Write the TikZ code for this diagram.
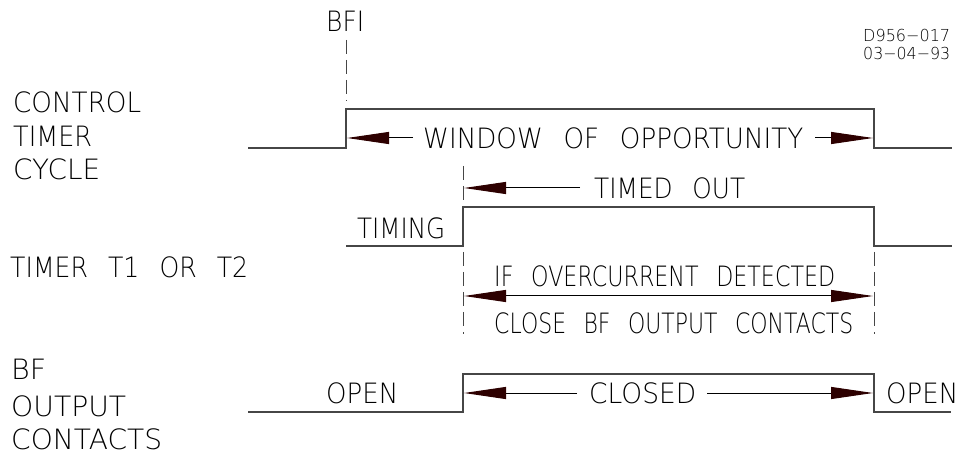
\documentclass[tikz,border=0pt]{standalone}
\usepackage{fontspec}
\usepackage{graphicx}
\usetikzlibrary{arrows.meta}
\IfFontExistsTF{DejaVu Sans ExtraLight}
  {\newfontfamily\lbl{DejaVu Sans ExtraLight}[WordSpace=2.5]}
  {\newfontfamily\lbl{DejaVu Sans}[WordSpace=2.5]}
\newcommand\fitto[2]{\resizebox{#1pt}{\height}{#2}}
\definecolor{arrc}{RGB}{45,0,0}
\definecolor{sigc}{RGB}{70,70,70}
\tikzset{
  txt/.style={inner sep=0pt, anchor=west, font=\lbl\fontsize{28}{30}\selectfont},
  smalltxt/.style={inner sep=0pt, anchor=west, font=\lbl\fontsize{16.5}{18}\selectfont},
  sig/.style={draw=sigc, line width=1.3pt},
  guide/.style={draw=sigc, line width=1pt, dash pattern=on 14pt off 6pt},
  arr/.style={draw=black, line width=1pt, -{Triangle[length=42pt,width=12pt,color=arrc]}},
  darr/.style={draw=black, line width=1pt, {Triangle[length=42pt,width=12pt,color=arrc]}-{Triangle[length=42pt,width=12pt,color=arrc]}}
}
\begin{document}
\begin{tikzpicture}[x=1pt,y=-1pt]
\useasboundingbox (0,0) rectangle (969,454);
% left labels
\node[txt] (l1) at (13,102) {\fitto{128}{CONTROL}};
\node[txt] (l2) at (13,136) {\fitto{79}{TIMER}};
\node[txt] (l3) at (13,169) {\fitto{87}{CYCLE}};
\node[txt] (l4) at (10,267) {\fitto{238}{TIMER T1 OR T2}};
\node[txt] (l5) at (11,369) {\fitto{35}{BF}};
\node[txt] (l6) at (11,406) {\fitto{115}{OUTPUT}};
\node[txt] (l7) at (11,439) {\fitto{151}{CONTACTS}};
% drawing id
\node[smalltxt] (id1) at (863,36) {\fitto{87}{D956−017}};
\node[smalltxt] (id2) at (863,54) {\fitto{87}{03−04−93}};
% control timer cycle
\coordinate (c0) at (248,148);
\coordinate (c1) at (346,148);
\coordinate (c2) at (346,109);
\coordinate (c3) at (874,109);
\coordinate (c4) at (874,148);
\coordinate (c5) at (952,148);
\draw[sig] (c0) -- (c1) -- (c2) -- (c3) -- (c4) -- (c5);
\node[txt] (bfi) at (326,21) {\fitto{38}{BFI}};
\coordinate (bfitop) at (346,40);
\coordinate (bfibot) at (346,101);
\draw[guide] (bfitop) -- (bfibot);
\node[txt] (win) at (423,138) {\fitto{380}{WINDOW OF OPPORTUNITY}};
\coordinate (wl) at (347,138);
\coordinate (wr) at (873,138);
\draw[arr] ([xshift=-10pt]win.west) -- (wl);
\draw[arr] ([xshift=12pt]win.east) -- (wr);
% timer
\coordinate (t0) at (346,246);
\coordinate (t1) at (463,246);
\coordinate (t2) at (463,207);
\coordinate (t3) at (874,207);
\coordinate (t4) at (874,246);
\coordinate (t5) at (952,246);
\draw[sig] (t0) -- (t1) -- (t2) -- (t3) -- (t4) -- (t5);
\node[txt] (timing) at (357,228) {\fitto{88}{TIMING}};
\node[txt] (tout) at (594,188) {\fitto{151}{TIMED OUT}};
\coordinate (tol) at (464,188);
\draw[arr] ([xshift=-14pt]tout.west) -- (tol);
\coordinate (g1a) at (463,166);
\coordinate (g1b) at (463,207);
\draw[guide] (g1a) -- (g1b);
\coordinate (g2a) at (463,252);
\coordinate (g2b) at (463,334);
\draw[guide] (g2a) -- (g2b);
\coordinate (g3a) at (874,252);
\coordinate (g3b) at (874,334);
\draw[guide] (g3a) -- (g3b);
\node[txt] (ifoc) at (494,276) {\fitto{341}{IF OVERCURRENT DETECTED}};
\coordinate (dl) at (464,296);
\coordinate (dr) at (873,296);
\draw[darr] (dl) -- (dr);
\node[txt] (close) at (494,323) {\fitto{359}{CLOSE BF OUTPUT CONTACTS}};
% BF output contacts
\coordinate (b0) at (248,412);
\coordinate (b1) at (463,412);
\coordinate (b2) at (463,374);
\coordinate (b3) at (874,374);
\coordinate (b4) at (874,412);
\coordinate (b5) at (951,412);
\draw[sig] (b0) -- (b1) -- (b2) -- (b3) -- (b4) -- (b5);
\node[txt] (open1) at (326,393) {\fitto{72}{OPEN}};
\node[txt] (closed) at (589,393) {\fitto{107}{CLOSED}};
\node[txt] (open2) at (886,393) {\fitto{72}{OPEN}};
\coordinate (cl) at (464,393);
\coordinate (cr) at (873,393);
\draw[arr] ([xshift=-12pt]closed.west) -- (cl);
\draw[arr] ([xshift=11pt]closed.east) -- (cr);
\end{tikzpicture}
\end{document}
